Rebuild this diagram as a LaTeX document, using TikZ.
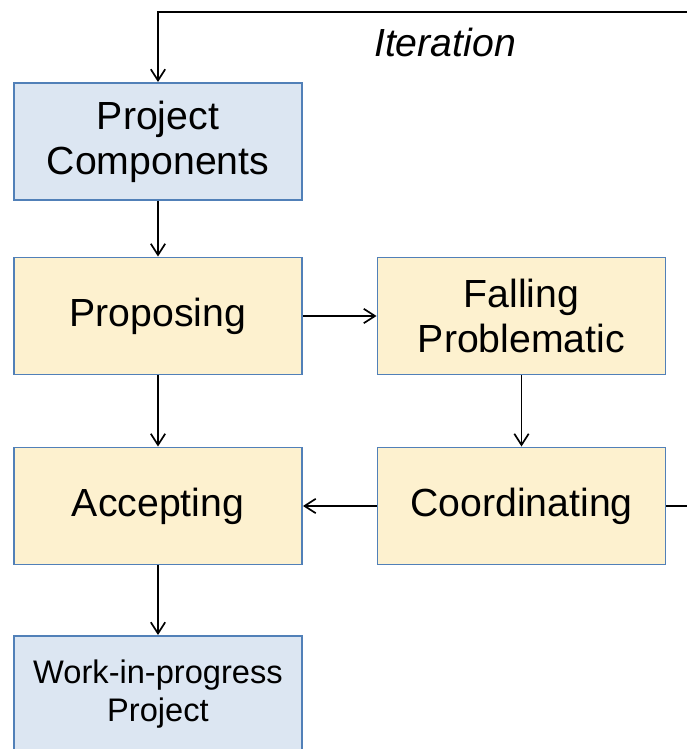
\documentclass[tikz,border=0pt]{standalone}
\usepackage{fontspec}
\setmainfont{Liberation Sans}
\usetikzlibrary{arrows.meta}
\definecolor{boxblue}{HTML}{DCE6F2}
\definecolor{boxyellow}{HTML}{FDF1CF}
\definecolor{boxline}{HTML}{5180B8}
\begin{document}
\begin{tikzpicture}[
  stage/.style={draw=boxline, line width=1.4pt, minimum width=7.2cm, minimum height=2.925cm,
    align=center, font=\fontsize{27.9}{32}\selectfont},
  inbox/.style={stage, fill=boxblue},
  workbox/.style={stage, fill=boxyellow},
  flow/.style={line width=1.2pt, -{Straight Barb[length=0.28cm, width=0.36cm, line width=1.2pt]}}
]
% Picture frame, cut at the edges like the original
\clip (0,0) rectangle (17.175,18.725);
% Boxes
\node[inbox] (comp) at (3.95,15.1875) {Project\\Components};
\node[workbox] (prop) at (3.95,10.825) {Proposing};
\node[workbox] (fall) at (13.0375,10.825) {Falling\\Problematic};
\node[workbox] (acc) at (3.95,6.075) {Accepting};
\node[workbox] (coord) at (13.0375,6.075) {Coordinating};
\node[inbox, font=\fontsize{23.2}{27}\selectfont] (wip) at (3.95,1.3625) {Work-in-progress\\Project};
% Connectors
\draw[flow] (comp) -- (prop);
\draw[flow] (prop) -- (fall);
\draw[flow] (prop) -- (acc);
\draw[flow] (fall) -- (coord);
\draw[flow] (coord) -- (acc);
\draw[flow] (acc) -- (wip);
% Iteration loop back to the top
\coordinate (loopR) at (18,6.075);
\coordinate (loopT) at (18,18.425);
\draw[flow] (coord.east) -- (loopR) -- (loopT) -| (comp.north);
\node[font=\fontsize{27.9}{32}\selectfont\itshape] (iter) at (11.125,17.675) {Iteration};
\end{tikzpicture}
\end{document}
